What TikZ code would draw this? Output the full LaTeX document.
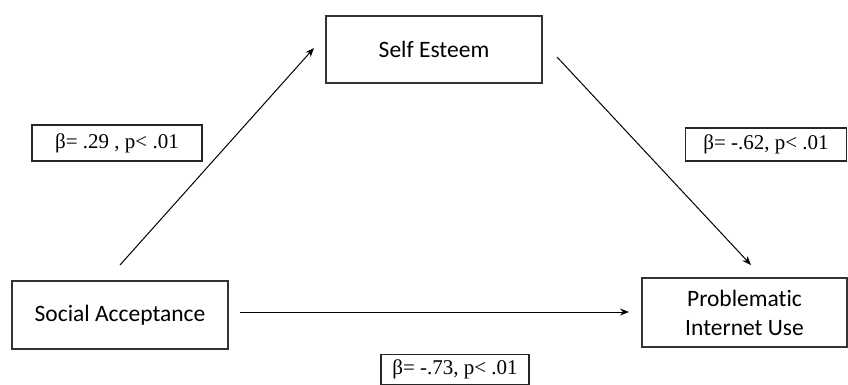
\documentclass[tikz,border=0pt]{standalone}
\usepackage{fontspec}
\setmainfont{Liberation Serif}
\newfontfamily\boxfont[Ligatures=NoCommon]{Carlito}
\usetikzlibrary{arrows.meta}
\begin{document}
\begin{tikzpicture}[x=1pt,y=-1pt,
  varbox/.style={draw=black!80,line width=1.3pt,inner sep=0pt,font=\boxfont\fontsize{23.5}{29}\selectfont,align=center},
  coefbox/.style={draw=black!85,line width=1.1pt,inner sep=0pt,font=\fontsize{21}{25}\selectfont},
  conn/.style={line width=1pt,-{Stealth[length=9pt,width=7pt]}}]
\useasboundingbox[fill=white] (0,0) rectangle (848,385);
\node[varbox,minimum width=216pt,minimum height=67pt] (se) at (434,49.5) {Self Esteem};
\node[varbox,minimum width=216pt,minimum height=68pt] (sa) at (120,315) {Social Acceptance};
\node[varbox,minimum width=205pt,minimum height=69pt] (piu) at (744.5,312.5) {Problematic\\Internet Use};
\node[coefbox,minimum width=170pt,minimum height=36pt] (b1) at (117,143) {β= .29 , p< .01};
\node[coefbox,minimum width=161pt,minimum height=33pt] (b2) at (766,144.5) {β= -.62, p< .01};
\node[coefbox,minimum width=148pt,minimum height=30pt] (b3) at (455,369.5) {β= -.73, p< .01};
\coordinate (a1s) at (120,265);
\coordinate (a1e) at (314,48);
\coordinate (a2s) at (557,57);
\coordinate (a2e) at (751,265);
\coordinate (a3s) at (240,312);
\coordinate (a3e) at (629,312);
\draw[conn] (a1s) -- (a1e);
\draw[conn] (a2s) -- (a2e);
\draw[conn] (a3s) -- (a3e);
\end{tikzpicture}
\end{document}
